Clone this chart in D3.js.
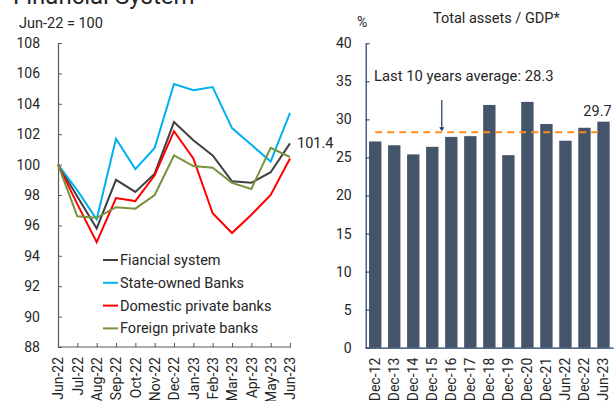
<!DOCTYPE html>
<html>
<head>
<meta charset="utf-8">
<script src="https://cdn.jsdelivr.net/npm/d3@7"></script>
<style>
  body { margin: 0; background: #fff; }
  svg { display: block; font-family: Roboto, "Liberation Sans", sans-serif; }
</style>
</head>
<body>
<svg id="chart" width="615" height="401"></svg>
<script>
const months = ["Jun-22","Jul-22","Aug-22","Sep-22","Oct-22","Nov-22","Dec-22","Jan-23","Feb-23","Mar-23","Apr-23","May-23","Jun-23"]
const financialSystem = [100, 97.9, 95.8, 99.0, 98.2, 99.4, 102.8, 101.6, 100.6, 98.9, 98.8, 99.5, 101.4]
const stateOwned = [100, 98.3, 96.4, 101.7, 99.7, 101.1, 105.3, 104.9, 105.1, 102.4, 101.3, 100.2, 103.4]
const domesticPrivate = [100, 97.4, 94.9, 97.8, 97.6, 99.3, 102.2, 100.4, 96.8, 95.5, 96.7, 98.0, 100.4]
const foreignPrivate = [100, 96.6, 96.5, 97.2, 97.1, 98.0, 100.6, 99.9, 99.8, 98.8, 98.4, 101.1, 100.5]
const leftTicks = [88, 90, 92, 94, 96, 98, 100, 102, 104, 106, 108]

const periods = ["Dec-12","Dec-13","Dec-14","Dec-15","Dec-16","Dec-17","Dec-18","Dec-19","Dec-20","Dec-21","Jun-22","Dec-22","Jun-23"]
const assetsGdp = [27.1, 26.6, 25.4, 26.4, 27.7, 27.8, 31.9, 25.3, 32.3, 29.4, 27.2, 28.9, 29.7]
const tenYearAvg = 28.3
const rightTicks = [0, 5, 10, 15, 20, 25, 30, 35, 40]

const svg = d3.select("#chart")
const txt = "#262626"

// page title, cut off at the top like the source
svg.append("text").attr("x", 13).attr("y", 4)
  .style("font-size", "24px").attr("fill", txt)
  .text("Financial System")

// ---------- left: index lines ----------
const L = svg.append("g")
const x1 = d3.scalePoint().domain(months).range([58, 290])
const y1 = d3.scaleLinear().domain([88, 108]).range([347, 43])

L.append("text").attr("x", 19).attr("y", 28)
  .style("font-size", "14.5px").attr("fill", txt).text("Jun-22 = 100")

const yAx1 = L.append("g").attr("transform", "translate(58,0)")
  .call(d3.axisLeft(y1).tickValues(leftTicks).tickSizeInner(-4).tickSizeOuter(0).tickPadding(18))
const xAx1 = L.append("g").attr("transform", "translate(0,347)")
  .call(d3.axisBottom(x1).tickSizeInner(-4).tickSizeOuter(0).tickPadding(10))
for (const ax of [yAx1, xAx1]) {
  ax.select(".domain").attr("stroke", "#595959").attr("stroke-width", 1.2)
  ax.selectAll(".tick line").attr("stroke", "#595959")
  ax.selectAll("text").attr("fill", txt).style("font-size", "14px").style("font-family", "Roboto")
}
xAx1.select(".domain").attr("d", "M58,0H291")
xAx1.selectAll("text")
  .attr("transform", "rotate(-90)")
  .attr("text-anchor", "end")
  .attr("x", -10).attr("y", 0).attr("dy", "0.35em")

const series = [
  { name: "Fiancial system", values: financialSystem, color: "#404040" },
  { name: "State-owned Banks", values: stateOwned, color: "#00b0f0" },
  { name: "Domestic private banks", values: domesticPrivate, color: "#ff0000" },
  { name: "Foreign private banks", values: foreignPrivate, color: "#77933c" }
]

const line = d3.line().x((d, i) => x1(months[i])).y(d => y1(d))
series.forEach(s => {
  L.append("path").datum(s.values)
    .attr("d", line)
    .attr("fill", "none")
    .attr("stroke", s.color)
    .attr("stroke-width", 2)
})

// last value label
const last = financialSystem[financialSystem.length - 1]
L.append("text")
  .attr("x", x1(months[months.length - 1]) + 7)
  .attr("y", y1(last)).attr("dy", "0.35em")
  .style("font-size", "14.5px").attr("fill", txt)
  .text(last.toFixed(1))

// legend
series.forEach((s, i) => {
  const yy = 260 + i * 22.8
  L.append("line").attr("x1", 103).attr("x2", 118).attr("y1", yy).attr("y2", yy)
    .attr("stroke", s.color).attr("stroke-width", 2)
  L.append("text").attr("x", 120).attr("y", yy).attr("dy", "0.35em")
    .style("font-size", "14.5px").attr("fill", txt).text(s.name)
})

// ---------- right: total assets / GDP ----------
const R = svg.append("g")
const navy = "#1f3864"
const x2 = d3.scaleBand().domain(periods).range([365.7, 613]).paddingInner(0.35).paddingOuter(0.175)
const y2 = d3.scaleLinear().domain([0, 40]).range([347.7, 43.3])

R.append("text").attr("x", 433).attr("y", 23)
  .style("font-size", "14.5px").attr("fill", txt).text("Total assets / GDP*")
R.append("text").attr("x", 357).attr("y", 27)
  .style("font-size", "14px").attr("fill", txt).text("%")

R.selectAll("rect.bar").data(assetsGdp).join("rect")
  .attr("class", "bar")
  .attr("x", (d, i) => x2(periods[i]))
  .attr("width", x2.bandwidth())
  .attr("y", d => y2(d))
  .attr("height", d => y2(0) - y2(d))
  .attr("fill", "#44546a")

const yAx2 = R.append("g").attr("transform", "translate(365.7,0)")
  .call(d3.axisLeft(y2).tickValues(rightTicks).tickSizeInner(-4).tickSizeOuter(0).tickPadding(14))
const xAx2 = R.append("g").attr("transform", "translate(0,347.7)")
  .call(d3.axisBottom(x2).tickSize(0).tickPadding(10))
for (const ax of [yAx2, xAx2]) {
  ax.select(".domain").attr("stroke", navy).attr("stroke-width", 1.2)
  ax.selectAll(".tick line").attr("stroke", navy)
  ax.selectAll("text").attr("fill", txt).style("font-size", "14px").style("font-family", "Roboto")
}
xAx2.selectAll("text")
  .attr("transform", "rotate(-90)")
  .attr("text-anchor", "end")
  .attr("x", -10).attr("y", 0).attr("dy", "0.35em")

// average line
const first = periods[0], lastP = periods[periods.length - 1]
R.append("line")
  .attr("x1", x2(first) + x2.bandwidth() / 2)
  .attr("x2", x2(lastP) + x2.bandwidth() / 2 - 2)
  .attr("y1", y2(tenYearAvg)).attr("y2", y2(tenYearAvg))
  .attr("stroke", "#ff8c1a").attr("stroke-width", 2)
  .attr("stroke-dasharray", "7,5")

R.append("text").attr("x", 374).attr("y", 81)
  .style("font-size", "14.8px").attr("fill", txt)
  .text("Last 10 years average: " + tenYearAvg.toFixed(1))

// arrow between Dec-15 and Dec-16
const ax = x2("Dec-16") - x2.step() * x2.paddingInner() / 2
R.append("line").attr("x1", ax).attr("x2", ax)
  .attr("y1", 100).attr("y2", y2(tenYearAvg) - 4)
  .attr("stroke", navy).attr("stroke-width", 1.2)
R.append("path")
  .attr("d", `M${ax - 2.5},${y2(tenYearAvg) - 5}L${ax + 2.5},${y2(tenYearAvg) - 5}L${ax},${y2(tenYearAvg) - 1}Z`)
  .attr("fill", navy)

// last bar label
const lastV = assetsGdp[assetsGdp.length - 1]
R.append("text")
  .attr("x", x2(lastP) + x2.bandwidth() / 2 - 6)
  .attr("y", y2(lastV) - 6)
  .attr("text-anchor", "middle")
  .style("font-size", "14.5px").attr("fill", txt)
  .text(lastV.toFixed(1))
</script>
</body>
</html>
